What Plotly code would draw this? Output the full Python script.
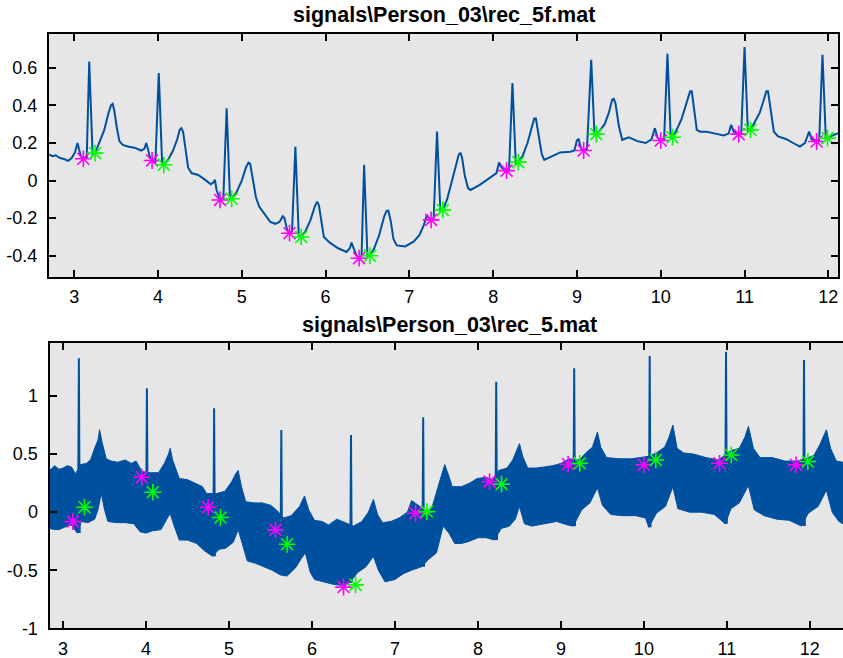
import plotly.graph_objects as go

W, H = 843, 658
SIG = "#0050a0"

# ---------- top (filtered) signal: vertices ----------
top_t = [2.70, 2.74, 2.78, 2.83, 2.88, 2.93, 2.97, 3.01, 3.04, 3.06, 3.08, 3.11, 3.15, 3.18, 3.22, 3.25,
         3.31, 3.36, 3.41, 3.44, 3.46, 3.48, 3.51, 3.54, 3.58, 3.65, 3.72, 3.80, 3.84, 3.86, 3.88, 3.90, 3.93,
         3.97, 4.01, 4.05, 4.07,
         4.12, 4.18, 4.23, 4.26, 4.28, 4.30, 4.33, 4.36, 4.40, 4.48, 4.56, 4.63, 4.66, 4.68, 4.70, 4.74,
         4.78, 4.82, 4.86, 4.88,
         4.94, 5.00, 5.05, 5.08, 5.10, 5.13, 5.17, 5.21, 5.28, 5.34, 5.40, 5.45, 5.49, 5.51, 5.54, 5.57,
         5.60, 5.64, 5.68, 5.71,
         5.76, 5.82, 5.87, 5.90, 5.92, 5.95, 5.98, 6.05, 6.15, 6.25, 6.29, 6.31, 6.33, 6.37, 6.40,
         6.43, 6.46, 6.50, 6.53,
         6.58, 6.64, 6.70, 6.73, 6.75, 6.78, 6.81, 6.85, 6.95, 7.05, 7.12, 7.17, 7.21, 7.23, 7.26,
         7.29, 7.33, 7.37, 7.40,
         7.45, 7.50, 7.55, 7.59, 7.61, 7.63, 7.66, 7.70, 7.73, 7.84, 7.95, 8.04, 8.07, 8.10, 8.16,
         8.19, 8.23, 8.27, 8.30,
         8.35, 8.41, 8.46, 8.49, 8.51, 8.54, 8.58, 8.61, 8.70, 8.80, 8.92, 8.97, 9.00, 9.02, 9.05, 9.08,
         9.12, 9.17, 9.21, 9.23,
         9.28, 9.33, 9.38, 9.42, 9.44, 9.46, 9.50, 9.54, 9.62, 9.72, 9.82, 9.89, 9.93, 9.96, 10.00,
         10.04, 10.08, 10.12, 10.14,
         10.19, 10.25, 10.31, 10.35, 10.37, 10.40, 10.43, 10.47, 10.55, 10.65, 10.75, 10.81, 10.84, 10.87, 10.93,
         10.96, 11.00, 11.04, 11.07,
         11.12, 11.18, 11.23, 11.26, 11.28, 11.31, 11.35, 11.40, 11.50, 11.58, 11.66, 11.72, 11.75, 11.77, 11.80, 11.86,
         11.89, 11.93, 11.97, 11.99, 12.05, 12.115]
top_v = [0.14, 0.13, 0.135, 0.12, 0.115, 0.105, 0.12, 0.15, 0.20, 0.17, 0.13, 0.116, 0.12, 0.634, 0.14, 0.146,
         0.217, 0.27, 0.36, 0.40, 0.408, 0.37, 0.28, 0.21, 0.19, 0.18, 0.175, 0.16, 0.17, 0.20, 0.17, 0.13, 0.107,
         0.10, 0.572, 0.09, 0.084,
         0.11, 0.16, 0.22, 0.27, 0.279, 0.26, 0.17, 0.07, 0.04, 0.03, 0.005, -0.02, -0.01, 0.004, -0.05, -0.103,
         -0.10, 0.385, -0.10, -0.097,
         -0.06, 0.0, 0.07, 0.095, 0.09, 0.02, -0.09, -0.14, -0.18, -0.22, -0.23, -0.22, -0.19, -0.20, -0.26, -0.28,
         -0.27, 0.18, -0.29, -0.30,
         -0.27, -0.21, -0.14, -0.112, -0.13, -0.22, -0.30, -0.33, -0.36, -0.38, -0.36, -0.33, -0.35, -0.40, -0.413,
         -0.40, 0.084, -0.40, -0.40,
         -0.36, -0.29, -0.19, -0.16, -0.16, -0.22, -0.31, -0.345, -0.35, -0.325, -0.29, -0.24, -0.183, -0.20, -0.209,
         -0.20, 0.261, -0.16, -0.156,
         -0.10, -0.02, 0.07, 0.14, 0.146, 0.12, 0.03, -0.04, -0.05, -0.023, 0.01, 0.04, 0.096, 0.07, 0.053,
         0.06, 0.519, 0.09, 0.098,
         0.13, 0.20, 0.28, 0.33, 0.33, 0.25, 0.14, 0.11, 0.13, 0.15, 0.154, 0.16, 0.215, 0.22, 0.17, 0.16,
         0.17, 0.643, 0.24, 0.247,
         0.27, 0.30, 0.36, 0.43, 0.435, 0.41, 0.29, 0.217, 0.23, 0.21, 0.20, 0.22, 0.279, 0.23, 0.213,
         0.22, 0.675, 0.22, 0.231,
         0.27, 0.33, 0.42, 0.475, 0.475, 0.37, 0.27, 0.26, 0.26, 0.25, 0.24, 0.25, 0.297, 0.26, 0.247,
         0.25, 0.71, 0.26, 0.27,
         0.31, 0.36, 0.43, 0.475, 0.475, 0.38, 0.26, 0.235, 0.22, 0.20, 0.181, 0.20, 0.24, 0.261, 0.22, 0.208,
         0.21, 0.669, 0.22, 0.226, 0.24, 0.252]

top_q_t = [3.11, 3.93, 4.74, 5.57, 6.40, 7.26, 8.16, 9.08, 10.00, 10.93, 11.86]
top_q_v = [0.116, 0.107, -0.103, -0.28, -0.413, -0.209, 0.053, 0.16, 0.213, 0.247, 0.208]
top_s_t = [3.25, 4.07, 4.88, 5.71, 6.53, 7.40, 8.30, 9.23, 10.14, 11.07, 11.99]
top_s_v = [0.146, 0.084, -0.097, -0.30, -0.40, -0.156, 0.098, 0.247, 0.231, 0.27, 0.226]

# ---------- bottom (raw) signal: band envelopes + R spikes ----------
up_t = [2.836, 2.90, 2.95, 3.00, 3.05, 3.10, 3.15, 3.21, 3.28, 3.33, 3.38, 3.42, 3.44, 3.47, 3.52, 3.58, 3.66,
        3.75, 3.82, 3.88, 3.95, 4.05, 4.15, 4.22, 4.27, 4.29, 4.32, 4.40, 4.50, 4.60, 4.68, 4.73, 4.85,
        4.95, 5.03, 5.08, 5.11, 5.15, 5.20, 5.30, 5.40, 5.50, 5.57, 5.66, 5.75, 5.85, 5.91, 5.96, 6.03,
        6.12, 6.20, 6.30, 6.40, 6.50, 6.60, 6.68, 6.74, 6.79, 6.85, 6.95, 7.05, 7.15, 7.20, 7.30, 7.38,
        7.45, 7.52, 7.60, 7.65, 7.69, 7.80, 7.90, 7.99, 8.10, 8.18, 8.25, 8.35, 8.42, 8.50, 8.54, 8.60,
        8.70, 8.80, 8.90, 9.00, 9.10, 9.22, 9.30, 9.38, 9.44, 9.48, 9.55, 9.70, 9.85, 9.95, 10.05, 10.15,
        10.25, 10.30, 10.35, 10.40, 10.48, 10.60, 10.75, 10.90, 11.05, 11.15, 11.22, 11.26, 11.32, 11.40,
        11.55, 11.70, 11.85, 11.95, 12.05, 12.12, 12.20, 12.25, 12.32, 12.40]
up_v = [0.36, 0.40, 0.37, 0.38, 0.40, 0.39, 0.33, 0.41, 0.42, 0.45, 0.55, 0.62, 0.71, 0.60, 0.46, 0.44, 0.43,
        0.45, 0.42, 0.44, 0.35, 0.34, 0.34, 0.42, 0.50, 0.55, 0.45, 0.29, 0.28, 0.25, 0.22, 0.16, 0.16,
        0.18, 0.26, 0.33, 0.36, 0.22, 0.09, 0.08, 0.08, 0.06, 0.02, -0.05, -0.03, 0.05, 0.14, 0.02, -0.07,
        -0.08, -0.11, -0.06, -0.09, -0.12, -0.08, 0.00, 0.11, -0.02, -0.09, -0.08, -0.05, 0.00, 0.10, 0.05, -0.04,
        0.05, 0.22, 0.41, 0.31, 0.22, 0.22, 0.25, 0.29, 0.30, 0.28, 0.36, 0.38, 0.45, 0.59, 0.48, 0.38,
        0.38, 0.39, 0.40, 0.42, 0.46, 0.45, 0.51, 0.56, 0.69, 0.56, 0.47, 0.46, 0.46, 0.47, 0.48, 0.51,
        0.56, 0.64, 0.75, 0.55, 0.51, 0.50, 0.47, 0.45, 0.53, 0.55, 0.65, 0.74, 0.55, 0.47,
        0.47, 0.44, 0.44, 0.46, 0.49, 0.58, 0.71, 0.55, 0.44, 0.43]

lo_t = [2.836, 2.90, 2.95, 3.05, 3.10, 3.17, 3.22, 3.30, 3.38, 3.42, 3.46, 3.50, 3.54, 3.65, 3.75, 3.85,
        3.93, 4.00, 4.08, 4.18, 4.25, 4.29, 4.33, 4.40, 4.50, 4.61, 4.70, 4.80, 4.88, 4.96, 5.05, 5.11,
        5.16, 5.22, 5.32, 5.42, 5.52, 5.62, 5.70, 5.80, 5.87, 5.92, 5.98, 6.03, 6.15, 6.25, 6.35, 6.45,
        6.55, 6.65, 6.74, 6.80, 6.88, 7.00, 7.10, 7.20, 7.32, 7.40, 7.50, 7.58, 7.65, 7.72, 7.80, 7.90,
        8.00, 8.10, 8.20, 8.28, 8.38, 8.45, 8.50, 8.56, 8.65, 8.80, 8.95, 9.08, 9.15, 9.25, 9.35, 9.44,
        9.50, 9.60, 9.75, 9.90, 10.02, 10.06, 10.15, 10.26, 10.35, 10.41, 10.55, 10.70, 10.85, 10.98, 11.05,
        11.15, 11.26, 11.33, 11.45, 11.60, 11.75, 11.90, 11.98, 12.10, 12.20, 12.27, 12.35, 12.40]
lo_v = [-0.14, -0.15, -0.15, -0.12, -0.11, -0.18, -0.08, -0.09, -0.06, 0.02, 0.16, 0.02, -0.08, -0.09, -0.09, -0.10,
        -0.17, -0.18, -0.16, -0.15, -0.06, -0.01, -0.10, -0.24, -0.24, -0.27, -0.33, -0.38, -0.32, -0.31, -0.26, -0.15,
        -0.28, -0.42, -0.44, -0.47, -0.50, -0.54, -0.55, -0.48, -0.40, -0.35, -0.52, -0.58, -0.60, -0.62, -0.63, -0.61,
        -0.52, -0.47, -0.38, -0.50, -0.60, -0.58, -0.53, -0.50, -0.47, -0.41, -0.35, -0.12, -0.18, -0.27, -0.27, -0.25,
        -0.22, -0.22, -0.24, -0.14, -0.12, -0.06, 0.05, -0.10, -0.12, -0.10, -0.08, -0.11, -0.12, 0.02, 0.08, 0.21,
        0.06, -0.02, -0.03, -0.03, -0.05, -0.13, -0.01, 0.05, 0.22, 0.03, 0.00, 0.00, -0.02, -0.10, 0.03,
        0.08, 0.23, 0.02, -0.03, -0.06, -0.07, -0.12, -0.01, 0.05, 0.19, 0.00, -0.08, -0.10]

bot_r_t = [3.19, 4.01, 4.82, 5.63, 6.47, 7.34, 8.22, 9.16, 10.07, 10.99, 11.93]
bot_r_top = [1.325, 1.067, 0.895, 0.708, 0.665, 0.818, 1.124, 1.239, 1.345, 1.382, 1.311]
bot_r_base = [-0.18, -0.175, -0.38, -0.54, -0.61, -0.47, -0.24, -0.12, -0.13, -0.10, -0.12]

bot_q_t = [3.117, 3.949, 4.748, 5.56, 6.38, 7.248, 8.14, 9.087, 10.0, 10.912, 11.835]
bot_q_v = [-0.081, 0.301, 0.043, -0.152, -0.645, -0.009, 0.263, 0.413, 0.407, 0.421, 0.407]
bot_s_t = [3.258, 4.081, 4.897, 5.70, 6.525, 7.384, 8.285, 9.228, 10.144, 11.053, 11.976]
bot_s_v = [0.043, 0.172, -0.046, -0.276, -0.626, 0.005, 0.241, 0.421, 0.45, 0.493, 0.436]

x_ticks = [3, 4, 5, 6, 7, 8, 9, 10, 11, 12]
top_y_ticks = [0.6, 0.4, 0.2, 0, -0.2, -0.4]
top_y_text = ["0.6", "0.4", "0.2", "0", "-0.2", "-0.4"]
bot_y_ticks = [1, 0.5, 0, -0.5, -1]
bot_y_text = ["1", "0.5", "0", "-0.5", "-1"]

titles = ["signals\\Person_03\\rec_5f.mat", "signals\\Person_03\\rec_5.mat"]

FONT = "Liberation Sans, Arial, sans-serif"
fig = go.Figure()


def star(color):
    return dict(symbol="asterisk-open", size=14, color=color, line=dict(color=color, width=1.6))


# top
fig.add_trace(go.Scatter(x=top_t, y=top_v, mode="lines", line=dict(color=SIG, width=2),
                         xaxis="x", yaxis="y", hoverinfo="skip"))
fig.add_trace(go.Scatter(x=top_q_t, y=top_q_v, mode="markers", marker=star("#ff00ff"), xaxis="x", yaxis="y"))
fig.add_trace(go.Scatter(x=top_s_t, y=top_s_v, mode="markers", marker=star("#00ff00"), xaxis="x", yaxis="y"))

# bottom band
band_x = up_t + lo_t[::-1]
band_y = up_v + lo_v[::-1]
fig.add_trace(go.Scatter(x=band_x, y=band_y, mode="lines", fill="toself", fillcolor=SIG,
                         line=dict(color=SIG, width=1), xaxis="x2", yaxis="y2", hoverinfo="skip"))
sx, sy = [], []
for t, top, base in zip(bot_r_t, bot_r_top, bot_r_base):
    sx += [t - 0.01, t, t + 0.01, None]
    sy += [base, top, base, None]
fig.add_trace(go.Scatter(x=sx, y=sy, mode="lines", line=dict(color=SIG, width=2),
                         xaxis="x2", yaxis="y2", hoverinfo="skip"))
fig.add_trace(go.Scatter(x=bot_q_t, y=bot_q_v, mode="markers", marker=star("#ff00ff"), xaxis="x2", yaxis="y2"))
fig.add_trace(go.Scatter(x=bot_s_t, y=bot_s_v, mode="markers", marker=star("#00ff00"), xaxis="x2", yaxis="y2"))

tickfont = dict(family=FONT, size=18, color="#000000")
ax_common = dict(showline=True, linecolor="#000000", linewidth=2, ticks="inside", ticklen=7,
                 tickwidth=2, tickcolor="#000000", showgrid=False, zeroline=False, tickfont=tickfont,
                 automargin=False)

fig.update_layout(
    width=W, height=H, margin=dict(l=0, r=0, t=0, b=0),
    paper_bgcolor="#ffffff", plot_bgcolor="#e6e6e6", showlegend=False,
    xaxis=dict(domain=[49 / W, 838 / W], range=[2.70, 12.115], anchor="y", mirror="ticks",
               tickvals=x_ticks, ticktext=[str(v) for v in x_ticks], ticklabelstandoff=2, **ax_common),
    yaxis=dict(domain=[1 - 277 / H, 1 - 34 / H], range=[-0.513, 0.78], anchor="x", mirror="ticks",
               tickvals=top_y_ticks, ticktext=top_y_text, ticklabelstandoff=6, **ax_common),
    xaxis2=dict(domain=[49.5 / W, 1.0], range=[2.836, 12.40], anchor="y2", mirror="ticks",
                tickvals=x_ticks, ticktext=[str(v) for v in x_ticks], ticklabelstandoff=3, **ax_common),
    yaxis2=dict(domain=[1 - 628.3 / H, 1 - 343 / H], range=[-1.0, 1.457], anchor="x2", mirror=False,
                tickvals=bot_y_ticks, ticktext=bot_y_text, ticklabelstandoff=6, **ax_common),
)
fig.add_annotation(text="<b>" + titles[0] + "</b>", x=443.5 / W, y=1 - 15 / H, xref="paper", yref="paper",
                   showarrow=False, xanchor="center", yanchor="middle",
                   font=dict(family=FONT, size=21.5, color="#000000"))
fig.add_annotation(text="<b>" + titles[1] + "</b>", x=449.7 / W, y=1 - 325 / H, xref="paper", yref="paper",
                   showarrow=False, xanchor="center", yanchor="middle",
                   font=dict(family=FONT, size=21.5, color="#000000"))

fig.write_html("out.html")
